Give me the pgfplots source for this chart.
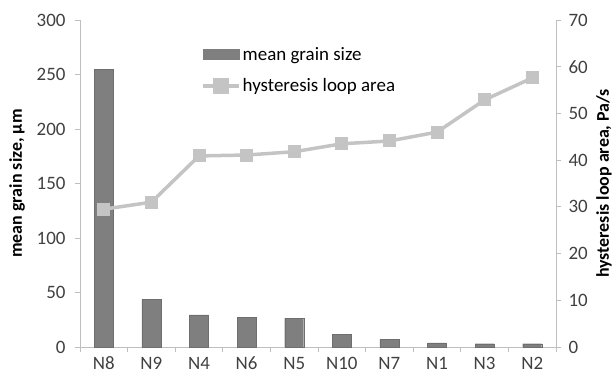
\documentclass[border=0pt]{standalone}
\usepackage{pgfplots}
\pgfplotsset{compat=1.18}
\usepackage{fontspec}
\setmainfont{Carlito}

\definecolor{barfill}{HTML}{7F7F7F}
\definecolor{barline}{HTML}{6E6E6E}
\definecolor{linegray}{HTML}{C4C4C4}
\definecolor{axisgray}{HTML}{BFBFBF}
\definecolor{ticktext}{HTML}{404040}

\pgfplotsset{
  base/.style={
    scale only axis, width=476bp, height=327bp,
    xmin=-0.5, xmax=9.5,
    axis line style={axisgray, line width=0.9bp},
    tick style={axisgray, line width=0.9bp},
    major tick length=5bp,
    tick align=outside,
    ticklabel style={font=\fontsize{19}{22}\selectfont, text=ticktext},
    label style={font=\bfseries\fontsize{18}{21}\selectfont, text=black},
    /pgf/number format/assume math mode=true,
  }
}

\begin{document}
\begin{tikzpicture}
\useasboundingbox (-80bp,-29bp) rectangle (536bp,347bp);

% mean grain size (left axis, bars)
\begin{axis}[base,
  at={(0,0)}, anchor=south west,
  axis y line*=left, axis x line*=bottom,
  ymin=0, ymax=300, ytick={0,50,...,300},
  yticklabel style={xshift=-6bp},
  xtick={-0.5,0.5,...,9.5}, xticklabels={},
  extra x ticks={0,1,2,3,4,5,6,7,8,9},
  extra x tick labels={N8,N9,N4,N6,N5,N10,N7,N1,N3,N2},
  extra x tick style={major tick length=0pt, xticklabel style={yshift=-6.5bp}},
  ylabel={mean grain size, μm},
  ylabel style={at={(axis description cs:-0.132,0.5)}, anchor=center},
]
\addplot[ybar, bar width=19bp, fill=barfill, draw=barline, line width=0.4bp]
  coordinates {(0,255) (1,44) (2,29.5) (3,27.5) (4,26.5) (5,11.5) (6,7) (7,3.7) (8,3) (9,3)};
\end{axis}

% hysteresis loop area (right axis, line with square marks)
\begin{axis}[base,
  at={(0,0)}, anchor=south west,
  axis y line*=right, axis x line=none,
  ymin=0, ymax=70, ytick={0,10,...,70},
  yticklabel style={xshift=4bp},
  ylabel={hysteresis loop area, Pa/s},
  ylabel style={at={(axis description cs:1.101,0.5)}, anchor=center},
  legend style={draw=none, fill=none, at={(0.248,0.93)}, anchor=north west,
    font=\fontsize{19}{22}\selectfont, text=black, row sep=13bp,
    /tikz/every even column/.append style={column sep=0bp}},
  legend cell align=left,
]
\addlegendimage{area legend, fill=barfill, draw=barline, legend image code/.code={
  \fill[barfill] (0bp,-5bp) rectangle (36bp,5bp);}}
\addlegendentry{mean grain size}
\addplot[color=linegray, line width=3.5bp, mark=square*, mark size=6bp,
  mark options={fill=linegray, draw=linegray, line width=0pt},
  legend image code/.code={
    \draw[linegray, line width=3.5bp] (0bp,0bp) -- (36bp,0bp);
    \fill[linegray] (12bp,-6bp) rectangle (24bp,6bp);}]
  coordinates {(0,29.5) (1,31) (2,40.9) (3,41.1) (4,41.8) (5,43.5) (6,44.1) (7,46) (8,52.9) (9,57.6)};
\addlegendentry{hysteresis loop area}
\end{axis}
\end{tikzpicture}
\end{document}
